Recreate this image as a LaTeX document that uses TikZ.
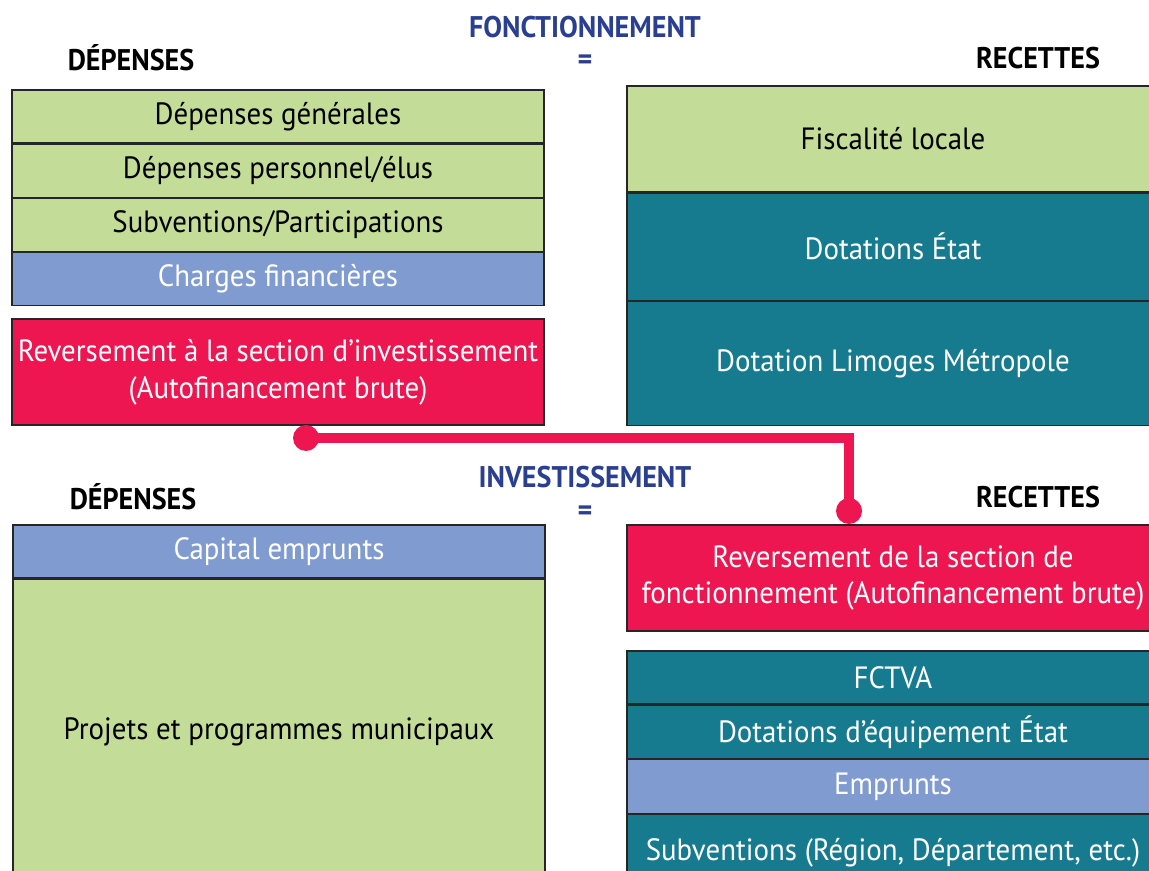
\documentclass[tikz,border=0pt]{standalone}
\usepackage{fontspec}
\setmainfont{PT Sans}[FakeStretch=0.94]
\usetikzlibrary{positioning}
\definecolor{gfond}{HTML}{C3DC97}
\definecolor{bfond}{HTML}{7F9BD0}
\definecolor{tfond}{HTML}{177B8F}
\definecolor{rfond}{HTML}{EE1651}
\definecolor{titre}{HTML}{2A3F8F}
\tikzset{
	budrow/.style={draw=black!85,line width=0.7pt,minimum width=10.64cm,inner sep=0pt,align=center,font=\fontsize{17.5}{21}\selectfont},
	greenrow/.style={budrow,fill=gfond,text=black},
	bluerow/.style={budrow,fill=bfond,text=white},
	tealrow/.style={budrow,fill=tfond,text=white},
	redrow/.style={budrow,fill=rfond,text=white},
	sectitle/.style={font=\bfseries\fontsize{17}{20}\selectfont,text=titre},
	coltitle/.style={font=\bfseries\fontsize{17}{20}\selectfont},
	linkdot/.style={circle,fill=rfond,inner sep=0pt,minimum size=0.52cm},
	link/.style={draw=rfond,line width=0.2cm}
}
\begin{document}
\begin{tikzpicture}[x=0.02cm,y=-0.02cm]
	\useasboundingbox (0,0) rectangle (1149,871);
	\clip (0,0) rectangle (1149,871);

	%%Titles fonctionnement
	\node[sectitle] (fonc) at (585,27) {FONCTIONNEMENT};
	\node[sectitle] (feq) at (585,62) {=};
	\node[coltitle] (fdep) at (131,58) {DÉPENSES};
	\node[coltitle] (frec) at (1038,58) {RECETTES};

	%%Depenses fonctionnement
	\node[greenrow,minimum height=1.06cm] (dg) at (278,116.5) {Dépenses générales};
	\node[greenrow,minimum height=1.06cm,below=0pt of dg] (dp) {Dépenses personnel/élus};
	\node[greenrow,minimum height=1.06cm,below=0pt of dp] (sp) {Subventions/Participations};
	\node[bluerow,minimum height=1.06cm,below=0pt of sp] (cf) {Charges financières};
	\node[redrow,minimum height=2.12cm] (rsi) at (278,372) {Reversement à la section d’investissement\\(Autofinancement brute)};

	%%Recettes fonctionnement
	\node[greenrow,minimum height=2.12cm] (fl) at (893,139) {Fiscalité locale};
	\node[tealrow,minimum height=2.14cm,below=0pt of fl] (de) {Dotations État};
	\node[tealrow,minimum height=2.48cm,below=0pt of de] (dlm) {Dotation Limoges Métropole};

	%%Titles investissement
	\node[sectitle] (inv) at (585,477) {INVESTISSEMENT};
	\node[sectitle] (ieq) at (585,513) {=};
	\node[coltitle] (idep) at (133,497) {DÉPENSES};
	\node[coltitle] (irec) at (1038,497) {RECETTES};

	%%Depenses investissement
	\node[bluerow,minimum height=1.06cm] (ce) at (279,551.5) {Capital emprunts};
	\node[greenrow,minimum height=6.12cm,below=0pt of ce] (ppm) {Projets et programmes municipaux};

	%%Recettes investissement
	\node[redrow,minimum height=2.12cm] (rsf) at (893,578) {Reversement de la section de\\fonctionnement (Autofinancement brute)};
	\node[tealrow,minimum height=1.06cm] (fct) at (893,677.5) {FCTVA};
	\node[tealrow,minimum height=1.06cm,below=0pt of fct] (dee) {Dotations d’équipement État};
	\node[bluerow,minimum height=1.08cm,below=0pt of dee] (emp) {Emprunts};
	\node[tealrow,minimum height=1.52cm,below=0pt of emp] (sub) {Subventions (Région, Département, etc.)};

	%% autofinancement link
	\node[linkdot] (da) at (306,438) {};
	\node[linkdot] (db) at (849,511) {};
	\draw[link] (da.center) -| (db.center);
\end{tikzpicture}
\end{document}
